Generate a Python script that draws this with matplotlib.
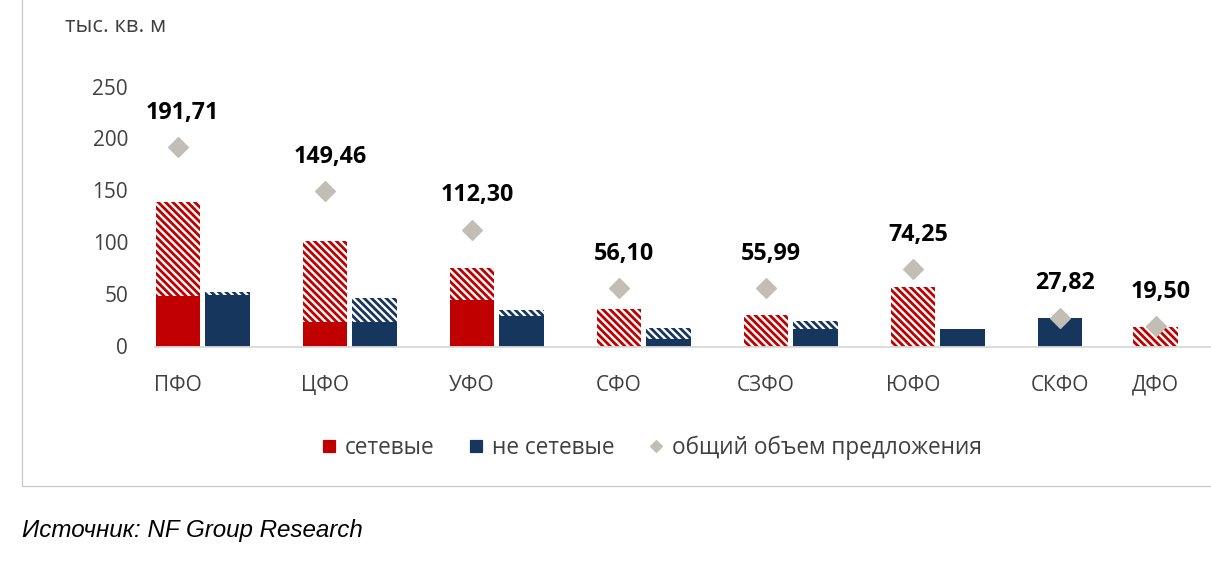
import numpy as np
import matplotlib
matplotlib.use("Agg")
import matplotlib.pyplot as plt
from matplotlib.lines import Line2D

# -------------------------------
# Data (тыс. кв. м)
# -------------------------------
regions = ["ПФО", "ЦФО", "УФО", "СФО", "СЗФО", "ЮФО", "СКФО", "ДФО"]
net_solid = [49.0, 24.0, 44.5, 0.0, 0.0, 0.0, 0.0, 0.0]
net_hatch = [90.0, 77.5, 31.0, 36.5, 30.0, 57.0, 0.0, 19.0]
nonnet_solid = [49.5, 24.0, 29.0, 7.0, 16.5, 16.5, 27.5, 0.0]
nonnet_hatch = [2.5, 22.5, 6.0, 10.5, 8.5, 0.0, 0.0, 0.0]
totals = [191.71, 149.46, 112.30, 56.10, 55.99, 74.25, 27.82, 19.50]
total_labels = ["191,71", "149,46", "112,30", "56,10", "55,99", "74,25", "27,82", "19,50"]

RED = "#C00000"
NAVY = "#17365D"
GREY = "#C3BEB5"
TXT = "#404040"

DPI = 88
plt.rcParams['font.family'] = ['Open Sans', 'DejaVu Sans']
plt.rcParams['hatch.linewidth'] = 2.3

fig = plt.figure(figsize=(1211 / DPI, 569 / DPI), dpi=DPI)
ax = fig.add_axes([155 / 1211, 1 - 346.5 / 569, 1 - 155 / 1211, 260 / 569])

# category slots; the last region sits closer to its neighbour in the original
slot = np.arange(len(regions), dtype=float)
slot[-1] = 6.65
w = 0.30
off = 0.337
HATCH = "\\" * 4

red_tot = np.array(net_solid) + np.array(net_hatch)
x_red = slot
x_navy = np.where(red_tot > 0, slot + off, slot)

ax.bar(x_red, net_solid, w, color=RED, lw=0)
ax.bar(x_red, net_hatch, w, bottom=net_solid, facecolor="white",
       edgecolor=RED, hatch=HATCH, lw=0)
ax.bar(x_navy, nonnet_solid, w, color=NAVY, lw=0)
ax.bar(x_navy, nonnet_hatch, w, bottom=nonnet_solid, facecolor="white",
       edgecolor=NAVY, hatch=HATCH, lw=0)

ax.plot(slot, totals, ls="none", marker="D", ms=12, color=GREY, mec=GREY, zorder=5)
for xi, yi, lab in zip(slot, totals, total_labels):
    ax.annotate(lab, (xi, yi), xytext=(4, 28), textcoords="offset points",
                ha="center", va="center", fontsize=19, fontweight="bold",
                color="black")

ax.set_xlim(-0.156, (1211 - 178) / 147)
ax.set_ylim(0, 250)
ax.set_yticks(np.arange(0, 251, 50))
ax.set_xticks(slot)
ax.set_xticklabels(regions)
ax.tick_params(axis="y", length=0, pad=22, labelsize=17, labelcolor=TXT)
ax.tick_params(axis="x", length=0, pad=23, labelsize=17, labelcolor=TXT)
for s in ["left", "right", "top"]:
    ax.spines[s].set_visible(False)
ax.spines["bottom"].set_color("#D9D9D9")
ax.spines["bottom"].set_linewidth(1.5)
ax.patch.set_visible(False)

fig.text(65 / 1211, 1 - 26 / 569, "тыс. кв. м", fontsize=18, color=TXT,
         ha="left", va="center")

# legend
handles = [
    Line2D([], [], ls="none", marker="s", ms=10, color=RED),
    Line2D([], [], ls="none", marker="s", ms=10, color=NAVY),
    Line2D([], [], ls="none", marker="D", ms=7, color=GREY),
]
fig.legend(handles, ["сетевые", "не сетевые", "общий объем предложения"],
           loc="center", bbox_to_anchor=(652 / 1211, 1 - 448 / 569), ncol=3,
           frameon=False, fontsize=18.5, handlelength=0.6, handletextpad=0.4,
           columnspacing=1.55, labelcolor=TXT)

# frame around chart area
fig.add_artist(Line2D([22 / 1211, 22 / 1211, 1.0], [1.0, 1 - 486 / 569, 1 - 486 / 569],
                      transform=fig.transFigure, color="#C8C8C8", lw=1))

fig.text(22 / 1211, 1 - 531 / 569, "Источник: NF Group Research", fontsize=19.7,
         style="italic", family="Liberation Sans", color="black",
         ha="left", va="center")

fig.savefig("out.png", dpi=DPI)
